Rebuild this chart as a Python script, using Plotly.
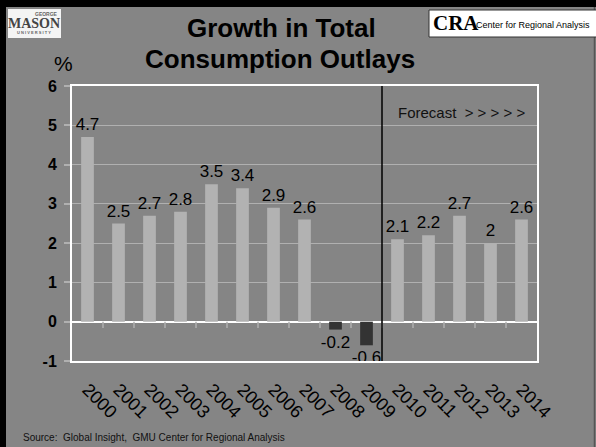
import plotly.graph_objects as go

years = ["2000", "2001", "2002", "2003", "2004", "2005", "2006", "2007",
         "2008", "2009", "2010", "2011", "2012", "2013", "2014"]
growth = [4.7, 2.5, 2.7, 2.8, 3.5, 3.4, 2.9, 2.6, -0.2, -0.6, 2.1, 2.2, 2.7, 2, 2.6]
labels = ["4.7", "2.5", "2.7", "2.8", "3.5", "3.4", "2.9", "2.6", "-0.2", "-0.6",
          "2.1", "2.2", "2.7", "2", "2.6"]
y_ticks = [-1, 0, 1, 2, 3, 4, 5, 6]

W, H = 596, 447
L, R, T, B = 72, 59, 86, 86
pw, ph = W - L - R, H - T - B

def px(x):
    return (x - L) / pw

def py(y):
    return (H - B - y) / ph

BG = "#858585"
BAR = "#b2b2b2"
NEG = "#333333"
GRID = "#b0b0b0"

colors = [BAR if v >= 0 else NEG for v in growth]

fig = go.Figure()
fig.add_trace(go.Bar(
    x=years, y=growth, marker=dict(color=colors, line=dict(width=0)),
    text=labels, textposition="outside", cliponaxis=False, constraintext="none",
    textfont=dict(family="Arial, Liberation Sans", size=17, color="#000000"),
    hoverinfo="skip",
))

shapes = []
# black frame edges
shapes.append(dict(type="rect", xref="paper", yref="paper", x0=px(0), x1=px(W), y0=py(0), y1=py(7),
                   fillcolor="#000000", line=dict(width=0), layer="below"))
shapes.append(dict(type="rect", xref="paper", yref="paper", x0=px(0), x1=px(6), y0=py(0), y1=py(H),
                   fillcolor="#000000", line=dict(width=0), layer="below"))
shapes.append(dict(type="line", xref="paper", yref="paper", x0=px(594.5), x1=px(594.5), y0=py(7), y1=py(H),
                   line=dict(color="#555555", width=1.5)))
# small ticks on the zero line between categories
for i in range(1, len(years)):
    shapes.append(dict(type="line", xref="x", yref="y", x0=i - 0.5, x1=i - 0.5, y0=0, y1=-0.16,
                       line=dict(color=GRID, width=1.5)))
# forecast divider
shapes.append(dict(type="line", xref="x", yref="paper", x0=9.5, x1=9.5, y0=0, y1=1,
                   line=dict(color="#000000", width=1.5)))
# logos
shapes.append(dict(type="rect", xref="paper", yref="paper", x0=px(8), x1=px(61), y0=py(38), y1=py(9),
                   fillcolor="#f4f4f4", line=dict(width=0)))
shapes.append(dict(type="rect", xref="paper", yref="paper", x0=px(429), x1=px(600), y0=py(37), y1=py(10),
                   fillcolor="#ffffff", line=dict(color="#333333", width=1)))

def ann(text, x, y, size, color="#000000", family="Arial, Liberation Sans", xanchor="center"):
    return dict(text=text, x=px(x), y=py(y), xref="paper", yref="paper", showarrow=False,
                xanchor=xanchor, yanchor="middle",
                font=dict(family=family, size=size, color=color))

annotations = [
    ann("<b>Growth in Total</b>", 281, 28, 26),
    ann("<b>Consumption Outlays</b>", 280, 59, 26),
    ann("%", 63, 64, 21),
    ann("Forecast  > > > > >", 396, 113, 15, "#111111", xanchor="left"),
    ann("Source:  Global Insight,  GMU Center for Regional Analysis", 21, 437, 10, "#111111",
        xanchor="left"),
    # Mason logo text
    ann("<b>GEORGE</b>", 46, 14, 5, "#666666", "Liberation Sans"),
    ann("<b>MASON</b>", 34, 23, 14, "#444444", "Liberation Serif"),
    ann("<b>U N I V E R S I T Y</b>", 34, 32, 4, "#666666", "Liberation Sans"),
    # CRA logo text
    ann("<b>CRA</b>", 431, 23, 21, "#000000", "Liberation Serif", xanchor="left"),
    ann("Center for Regional Analysis", 474, 25, 9, "#000000",
        "Liberation Sans Narrow, Liberation Sans", xanchor="left"),
]

fig.update_layout(
    width=W, height=H,
    margin=dict(l=L, r=R, t=T, b=B, pad=0),
    paper_bgcolor=BG, plot_bgcolor=BG,
    showlegend=False,
    bargap=0.59,
    shapes=shapes,
    annotations=annotations,
    font=dict(family="Arial, Liberation Sans", color="#000000"),
)
fig.update_xaxes(
    type="category", tickangle=45, showgrid=False,
    tickfont=dict(family="Arial, Liberation Sans", size=18, color="#000000"),
    showline=True, linecolor="#ffffff", linewidth=2, mirror=True,
    ticks="", ticklabelstandoff=9, zeroline=False,
)
fig.update_yaxes(
    range=[-1, 6], tickvals=y_ticks, ticktext=[str(v) for v in y_ticks],
    tickfont=dict(family="Arial, Liberation Sans", size=16, color="#000000", weight="bold"),
    showgrid=True, gridcolor=GRID, gridwidth=1,
    zeroline=True, zerolinecolor="#ffffff", zerolinewidth=2,
    showline=True, linecolor="#ffffff", linewidth=2, mirror=True,
    ticks="outside", ticklen=6, tickcolor=GRID, tickwidth=1.5,
    ticklabelstandoff=4,
)

fig.write_html("out.html", config={"displayModeBar": False},
               post_script="document.body.style.margin='0';document.body.style.overflow='hidden';")
